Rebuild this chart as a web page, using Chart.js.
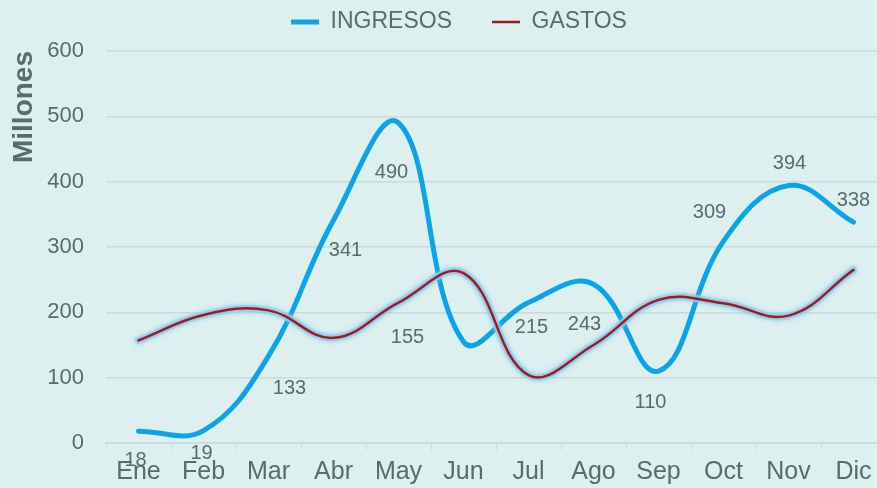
<!DOCTYPE html>
<html><head><meta charset="utf-8">
<script src="https://cdn.jsdelivr.net/npm/chart.js@4/dist/chart.umd.min.js"></script>
<style>
html,body{margin:0;padding:0;background:#ddefee;}
#wrap{width:877px;height:488px;overflow:hidden;position:relative;background:#ddefee;}
canvas{display:block;}
</style></head><body>
<div id="wrap"><canvas id="c" width="886" height="488"></canvas></div>
<script>
const categories = ['Ene','Feb','Mar','Abr','May','Jun','Jul','Ago','Sep','Oct','Nov','Dic'];
const ingresos = [18,19,133,341,490,155,215,243,110,309,394,338];
const gastos = [157,196,203,161,215,260,104,150,219,214,195,265];
const yTicks = [0,100,200,300,400,500,600];
const seriesNames = ['INGRESOS','GASTOS'];
const axisTitle = 'Millones';

const TEXT = '#596b6b';
const GRID = '#c8dcdb';
const FONT = "'Liberation Sans', Arial, sans-serif";

const glowPlugin = {
  id: 'glow',
  beforeDatasetDraw(chart, args, opts) {
    if (args.index !== 1) return;
    const line = chart.getDatasetMeta(1).dataset;
    if (!line || typeof line.path !== 'function') return;
    const ctx = chart.ctx;
    ctx.save();
    ctx.beginPath();
    line.path(ctx);
    ctx.lineJoin = 'round';
    ctx.lineCap = 'round';
    ctx.strokeStyle = opts.color;
    ctx.lineWidth = opts.width;
    ctx.shadowColor = opts.shadow;
    ctx.shadowBlur = opts.blur;
    ctx.stroke();
    ctx.restore();
  }
};

const valueLabels = {
  id: 'valueLabels',
  afterDatasetsDraw(chart, args, opts) {
    const ctx = chart.ctx;
    const meta = chart.getDatasetMeta(0);
    const ds = chart.data.datasets[0].data;
    ctx.save();
    ctx.font = opts.size + 'px ' + FONT;
    ctx.fillStyle = TEXT;
    ctx.textAlign = 'center';
    ctx.textBaseline = 'middle';
    meta.data.forEach((pt, i) => {
      const o = opts.offsets[i] || [0, 0];
      ctx.fillText(String(ds[i]), pt.x + o[0], pt.y + o[1]);
    });
    ctx.restore();
  }
};

const legendPlace = {
  id: 'legendPlace',
  beforeLayout(chart) {
    const l = chart.legend;
    if (l && !l._patchedFit) {
      const f = l.fit;
      l.fit = function () { f.call(this); this._fullHeight = this.height; this.height = 0; };
      l._patchedFit = true;
    }
  },
  afterLayout(chart, args, opts) {
    const l = chart.legend;
    if (!l) return;
    l.left += opts.dx; l.right += opts.dx;
    l.top = opts.top;
    l.height = l._fullHeight || 150;
    l.bottom = opts.top + l.height;
  }
};

new Chart(document.getElementById('c'), {
  type: 'line',
  data: {
    labels: categories,
    datasets: [
      {
        label: seriesNames[0],
        data: ingresos,
        borderColor: '#0ba4ea',
        backgroundColor: '#0ba4ea',
        borderWidth: 5,
        borderCapStyle: 'round',
        borderJoinStyle: 'round',
        pointRadius: 0,
        pointHoverRadius: 0,
        tension: 0.4,
        fill: false,
        order: 1
      },
      {
        label: seriesNames[1],
        data: gastos,
        borderColor: '#a3191d',
        backgroundColor: '#a3191d',
        borderWidth: 2.5,
        borderCapStyle: 'round',
        pointRadius: 0,
        pointHoverRadius: 0,
        tension: 0.4,
        fill: false,
        order: 0
      }
    ]
  },
  options: {
    responsive: false,
    animation: false,
    devicePixelRatio: 1,
    layout: { padding: { top: 51, left: 0, right: 0, bottom: 0 } },
    scales: {
      x: {
        offset: true,
        grid: { display: true, drawOnChartArea: false, drawTicks: true, tickLength: 7, color: GRID, offset: true },
        border: { display: true, color: GRID, width: 1.5 },
        ticks: { color: TEXT, font: { family: FONT, size: 25 }, padding: 7, maxRotation: 0, autoSkip: false },
        afterFit(scale) { scale.height = 45; }
      },
      y: {
        min: 0, max: 600,
        afterBuildTicks(scale) { scale.ticks = yTicks.map(v => ({ value: v })); },
        grid: { color: GRID, lineWidth: 1.5, drawTicks: false },
        border: { display: false },
        ticks: { color: TEXT, font: { family: FONT, size: 22 }, padding: 22 },
        title: { display: true, text: axisTitle, align: 'end', color: TEXT,
                 font: { family: FONT, size: 28, weight: 'bold' }, padding: { top: 7, bottom: 7 } },
        afterFit(scale) { scale.width = 106; }
      }
    },
    plugins: {
      legend: {
        display: true,
        position: 'top',
        labels: {
          usePointStyle: true,
          pointStyle: 'line',
          pointStyleWidth: 28,
          color: TEXT,
          font: { family: FONT, size: 23 },
          padding: 40,
          sort: (a, b) => a.datasetIndex - b.datasetIndex
        }
      },
      tooltip: { enabled: false },
      glow: { color: 'rgba(140,205,240,0.75)', width: 7, shadow: 'rgba(120,200,240,0.9)', blur: 4 },
      valueLabels: {
        size: 20,
        offsets: [[-3,29],[-2,23],[21,32],[12,30],[-7,50],[-56,-4],[3,25],[-9,40],[-8,31],[-14,-29],[1,-22],[0,-22]]
      },
      legendPlace: { dx: 16, top: -29.5 }
    }
  },
  plugins: [glowPlugin, valueLabels, legendPlace]
});
</script>
</body></html>
